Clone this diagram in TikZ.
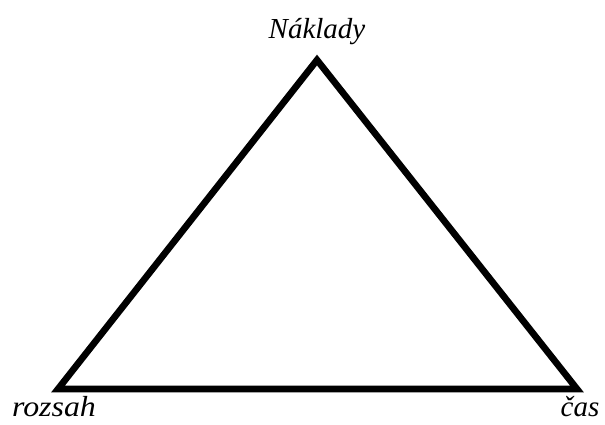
\documentclass[tikz,border=0pt]{standalone}
\usepackage{fontspec}
\setmainfont{Liberation Serif}
\usepackage{tikz}
\usetikzlibrary{positioning}
\tikzset{
  trilabel/.style={font=\fontsize{16.5}{20}\selectfont\itshape, inner sep=0pt},
  triline/.style={line width=3.8pt, line join=miter},
}

\begin{document}
\begin{tikzpicture}[x=0.02cm, y=-0.02cm]
  \useasboundingbox (0,0) rectangle (605,424);
  \coordinate (top) at (317,60);
  \coordinate (left) at (58,389);
  \coordinate (right) at (577,389);
  % vrcholy
  \node[trilabel, anchor=base] (naklady) at (317,38) {Náklady};
  \node[trilabel, anchor=base, xscale=1.1] (rozsah) at (54,416) {rozsah};
  \node[trilabel, anchor=base] (cas) at (580,416) {čas};
  % trojúhelník
  \draw[triline] (top) -- (right) -- (left) -- cycle;
\end{tikzpicture}
\end{document}
